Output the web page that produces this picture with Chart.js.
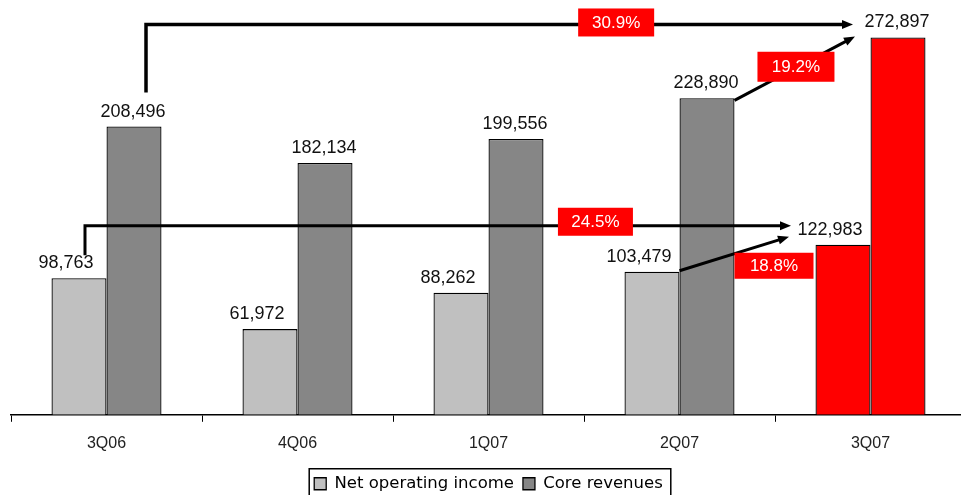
<!DOCTYPE html>
<html lang="en">
<head>
<meta charset="UTF-8">
<title>Net operating income and core revenues</title>
<script src="https://cdn.jsdelivr.net/npm/chart.js@4.4.0/dist/chart.umd.min.js"></script>
<style>
  html, body { margin: 0; padding: 0; background: #fff; overflow: hidden; }
  #wrap { position: relative; width: 966px; height: 495px; }
</style>
</head>
<body>
<div id="wrap"><canvas id="chart"></canvas></div>
<script>
// values
const quarters = ['3Q06', '4Q06', '1Q07', '2Q07', '3Q07'];
const netOperatingIncome = [98763, 61972, 88262, 103479, 122983];
const coreRevenues = [208496, 182134, 199556, 228890, 272897];
const growthLabels = ['30.9%', '24.5%', '19.2%', '18.8%'];

const LIGHT = '#c0c0c0', DARK = '#868686', RED = '#ff0000';
const lastIdx = quarters.length - 1;

function drawArrow(ctx, pts, width) {
    const n = pts.length;
    const [tx, ty] = pts[n - 1];
    const [px, py] = pts[n - 2];
    const len = Math.hypot(tx - px, ty - py);
    const ux = (tx - px) / len, uy = (ty - py) / len;
    const head = 11, half = 4.5;
    ctx.save();
    ctx.strokeStyle = '#000';
    ctx.fillStyle = '#000';
    ctx.lineWidth = width;
    ctx.lineJoin = 'miter';
    ctx.beginPath();
    ctx.moveTo(pts[0][0], pts[0][1]);
    for (let i = 1; i < n - 1; i++) ctx.lineTo(pts[i][0], pts[i][1]);
    ctx.lineTo(tx - ux * head * 0.8, ty - uy * head * 0.8);
    ctx.stroke();
    ctx.beginPath();
    ctx.moveTo(tx, ty);
    ctx.lineTo(tx - ux * head - uy * half, ty - uy * head + ux * half);
    ctx.lineTo(tx - ux * head + uy * half, ty - uy * head - ux * half);
    ctx.closePath();
    ctx.fill();
    ctx.restore();
}

function drawBadge(ctx, cx, cy, w, h, text) {
    ctx.save();
    ctx.fillStyle = RED;
    ctx.fillRect(cx - w / 2, cy - h / 2, w, h);
    ctx.fillStyle = '#fff';
    ctx.font = '17px "Liberation Sans", Arial, sans-serif';
    ctx.textAlign = 'center';
    ctx.textBaseline = 'middle';
    ctx.fillText(text, cx, cy + 1);
    ctx.restore();
}

const annotations = {
    id: 'annotations',
    afterDatasetsDraw(chart) {
        const ctx = chart.ctx;
        const L = chart.getDatasetMeta(0).data;
        const C = chart.getDatasetMeta(1).data;

        // value labels above the bars
        ctx.save();
        ctx.font = '18px "Liberation Sans", Arial, sans-serif';
        ctx.fillStyle = '#111';
        ctx.textAlign = 'center';
        ctx.textBaseline = 'alphabetic';
        L.forEach((bar, i) => ctx.fillText(netOperatingIncome[i].toLocaleString('en-US'), bar.x - 13, bar.y - 10));
        C.forEach((bar, i) => ctx.fillText(coreRevenues[i].toLocaleString('en-US'), bar.x - 1, bar.y - 10));
        ctx.restore();

        // core revenues, year on year
        const a = [[C[0].x + 12, C[0].y - 34], [C[0].x + 12, C[lastIdx].y - 13], [C[lastIdx].x - 45, C[lastIdx].y - 13]];
        drawArrow(ctx, a, 3.5);
        // net operating income, year on year
        const b = [[L[0].x + 6, L[0].y - 23], [L[0].x + 6, L[lastIdx].y - 19], [L[lastIdx].x - 52, L[lastIdx].y - 19]];
        drawArrow(ctx, b, 3);
        // core revenues, quarter on quarter
        const c = [[C[3].x + C[3].width / 2, C[3].y + 2], [C[lastIdx].x - 43, C[lastIdx].y - 1]];
        drawArrow(ctx, c, 3);
        // net operating income, quarter on quarter
        const d = [[L[3].x + L[3].width / 2, L[3].y - 1], [L[lastIdx].x - 54, L[lastIdx].y - 8]];
        drawArrow(ctx, d, 3);

        const along = (p, q, f) => [p[0] + (q[0] - p[0]) * f, p[1] + (q[1] - p[1]) * f];
        drawBadge(ctx, along(a[1], a[2], 0.665)[0], a[1][1] - 2, 76, 28, growthLabels[0]);
        drawBadge(ctx, along(b[1], b[2], 0.723)[0], b[1][1] - 4, 75, 28, growthLabels[1]);
        const cm = along(c[0], c[1], 0.51);
        drawBadge(ctx, cm[0], cm[1] - 1, 77, 30, growthLabels[2]);
        drawBadge(ctx, d[1][0] - 15, d[1][1] + 29, 79, 26, growthLabels[3]);
    },
    afterDraw(chart) {
        // frame round the legend
        const boxes = chart.legend && chart.legend.legendHitBoxes;
        if (!boxes || !boxes.length) return;
        const first = boxes[0], last = boxes[boxes.length - 1];
        const mid = first.top + first.height / 2;
        const ctx = chart.ctx;
        ctx.save();
        ctx.strokeStyle = '#000';
        ctx.lineWidth = 1.5;
        ctx.strokeRect(first.left - 5, mid - 15, last.left + last.width + 8 - (first.left - 5), 27);
        ctx.restore();
    }
};

Chart.defaults.font.family = '"Liberation Sans", Arial, sans-serif';

new Chart(document.getElementById('chart'), {
    type: 'bar',
    data: {
        labels: quarters,
        datasets: [
            {
                label: 'Net operating income',
                data: netOperatingIncome,
                backgroundColor: c => c.dataIndex === lastIdx ? RED : LIGHT,
                borderColor: '#000',
                borderWidth: 1.3,
                borderSkipped: 'start'
            },
            {
                label: 'Core revenues',
                data: coreRevenues,
                backgroundColor: c => c.dataIndex === lastIdx ? RED : DARK,
                borderColor: '#000',
                borderWidth: 1.3,
                borderSkipped: 'start'
            }
        ]
    },
    options: {
        responsive: true,
        maintainAspectRatio: false,
        animation: false,
        datasets: { bar: { categoryPercentage: 0.576, barPercentage: 1 } },
        layout: { padding: { left: 11, right: 0, top: 0, bottom: -7 } },
        plugins: {
            tooltip: { enabled: false },
            legend: {
                position: 'bottom',
                labels: {
                    boxWidth: 12,
                    boxHeight: 12,
                    color: '#000',
                    padding: 9,
                    font: { family: '"DejaVu Sans", sans-serif', size: 16.5 }
                }
            }
        },
        scales: {
            x: {
                grid: { drawOnChartArea: false, drawTicks: true, tickLength: 7, color: '#000', lineWidth: 1 },
                border: { display: true, color: '#000', width: 1.5 },
                ticks: { color: '#222', font: { size: 16 }, padding: 12 },
                afterFit: s => { s.height += 1.5; }
            },
            y: {
                display: false,
                min: 0,
                max: 300000
            }
        }
    },
    plugins: [annotations]
});
</script>
</body>
</html>
